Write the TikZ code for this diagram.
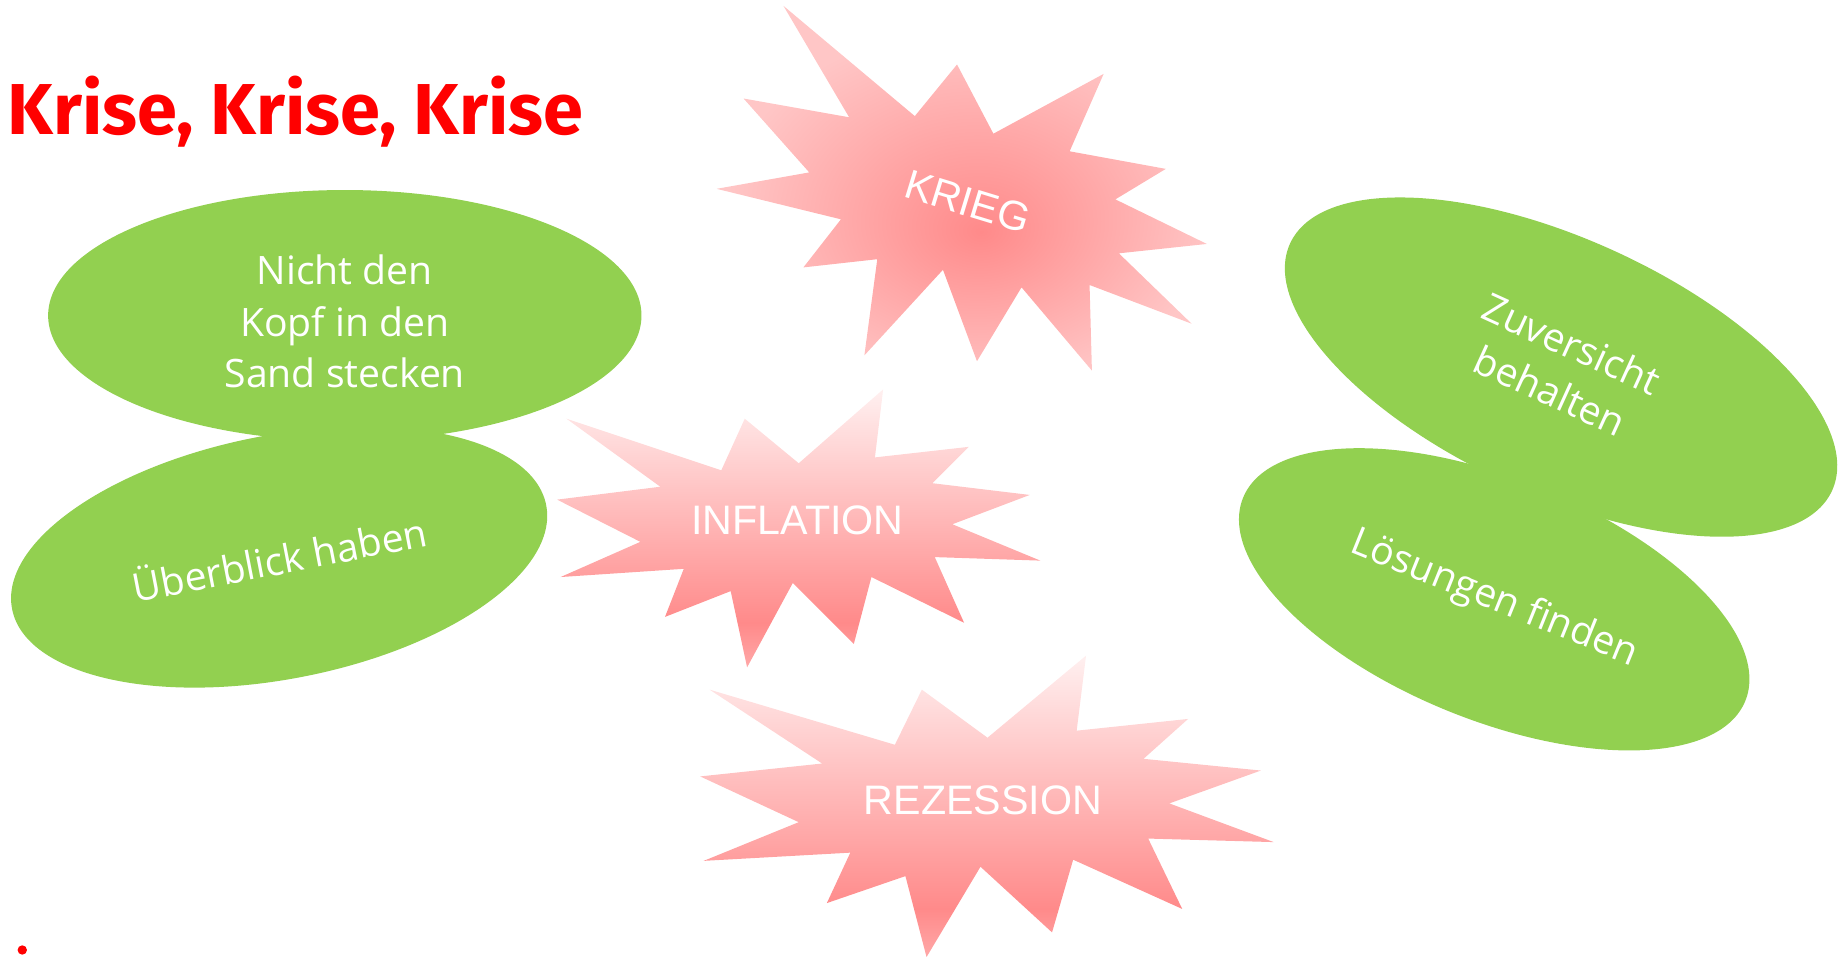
\documentclass[tikz,border=0pt]{standalone}
\usepackage{fontspec}
\usetikzlibrary{shapes.geometric}

\newfontfamily\titlefont{Fira Sans}
\newfontfamily\leaffont{Open Sans}
\newfontfamily\burstfont{Liberation Sans}

\definecolor{leafgreen}{HTML}{92D050}
\definecolor{krisered}{HTML}{FF0000}
\definecolor{burstdark}{HTML}{FF8A8A}
\definecolor{burstlight}{HTML}{FFC6C6}
\definecolor{burstpale}{HTML}{FFF0F0}
\definecolor{bursttip}{HTML}{FFA8A8}

\pgfdeclareverticalshading{burstfade}{100bp}{color(0bp)=(bursttip); color(25bp)=(bursttip); color(33bp)=(burstdark); color(75bp)=(burstpale); color(100bp)=(burstpale)}
\pgfdeclareradialshading{burstglow}{\pgfpoint{2bp}{-6bp}}{color(0bp)=(burstdark); color(25bp)=(burstlight); color(50bp)=(burstlight)}

\tikzset{
  leaf/.style={ellipse, fill=leafgreen, inner sep=0, text=white, align=center,
    font=\leaffont\fontsize{19}{25}\selectfont},
  leaftext/.style={inner sep=0, text=white, align=center,
    font=\leaffont\fontsize{19}{25}\selectfont},
  bursttext/.style={inner sep=0, text=white, font=\burstfont\fontsize{20}{24}\selectfont}
}

\begin{document}
\begin{tikzpicture}[x=0.02cm, y=-0.02cm]
\useasboundingbox (0,0) rectangle (1568,817);

% title
\node[anchor=base west, inner sep=0, text=krisered, font=\titlefont\bfseries\fontsize{35}{40}\selectfont] (titel) at (6,115) {Krise, Krise, Krise};

% green ellipses, left
\node[leaf, minimum width=9.28cm, minimum height=4.16cm, rotate=11] (ueberblick) at (238,475) {Überblick haben};
\node[leaf, minimum width=10.12cm, minimum height=4.28cm] (kopf) at (294,269) {};
\node[leaftext] (kopftext) at (294,274) {Nicht den\\Kopf in den\\Sand stecken};

% green ellipses, right
\node[leaf, minimum width=9.24cm, minimum height=4.12cm, rotate=-22] (loesungen) at (1274,511) {Lösungen finden};
\node[leaf, minimum width=10.16cm, minimum height=4.36cm, rotate=-24.5] (zuversicht) at (1331,313) {Zuversicht\\behalten};

% bursts
\shade[shading=burstglow] (668,5) -- (780,99) -- (816,55) -- (847,114) -- (941,63) -- (912,129) -- (994,144) -- (951,170) -- (1029,208) -- (954,216) -- (1016,276) -- (929,243) -- (931,316) -- (871,245) -- (833,308) -- (804,230) -- (737,303) -- (748,221) -- (685,228) -- (717,187) -- (611,161) -- (690,147) -- (634,84) -- (724,100) -- cycle;
\shade[shading=burstfade] (483,357) -- (615,401) -- (635,357) -- (681,395) -- (753,332) -- (746,390) -- (826,381) -- (795,412) -- (878,422) -- (812,447) -- (887,478) -- (797,475) -- (822,531) -- (743,492) -- (728,549) -- (676,497) -- (637,569) -- (623,504) -- (567,526) -- (583,485) -- (478,492) -- (546,462) -- (475,426) -- (563,415) -- cycle;
\shade[shading=burstfade] (605,588) -- (763,635) -- (786,588) -- (842,629) -- (926,559) -- (918,623) -- (1013,613) -- (975,647) -- (1075,657) -- (997,685) -- (1086,718) -- (979,715) -- (1008,775) -- (915,733) -- (897,795) -- (836,739) -- (790,816) -- (772,747) -- (705,770) -- (725,727) -- (600,734) -- (681,701) -- (597,662) -- (701,651) -- cycle;

\node[bursttext, rotate=-17] (krieg) at (825,172) {KRIEG};
\node[bursttext] (inflation) at (680,444) {INFLATION};
\node[bursttext] (rezession) at (838,682) {REZESSION};

% red dot
\node[circle, fill=krisered, inner sep=0, minimum size=0.16cm] (punkt) at (19,810) {};
\end{tikzpicture}
\end{document}
